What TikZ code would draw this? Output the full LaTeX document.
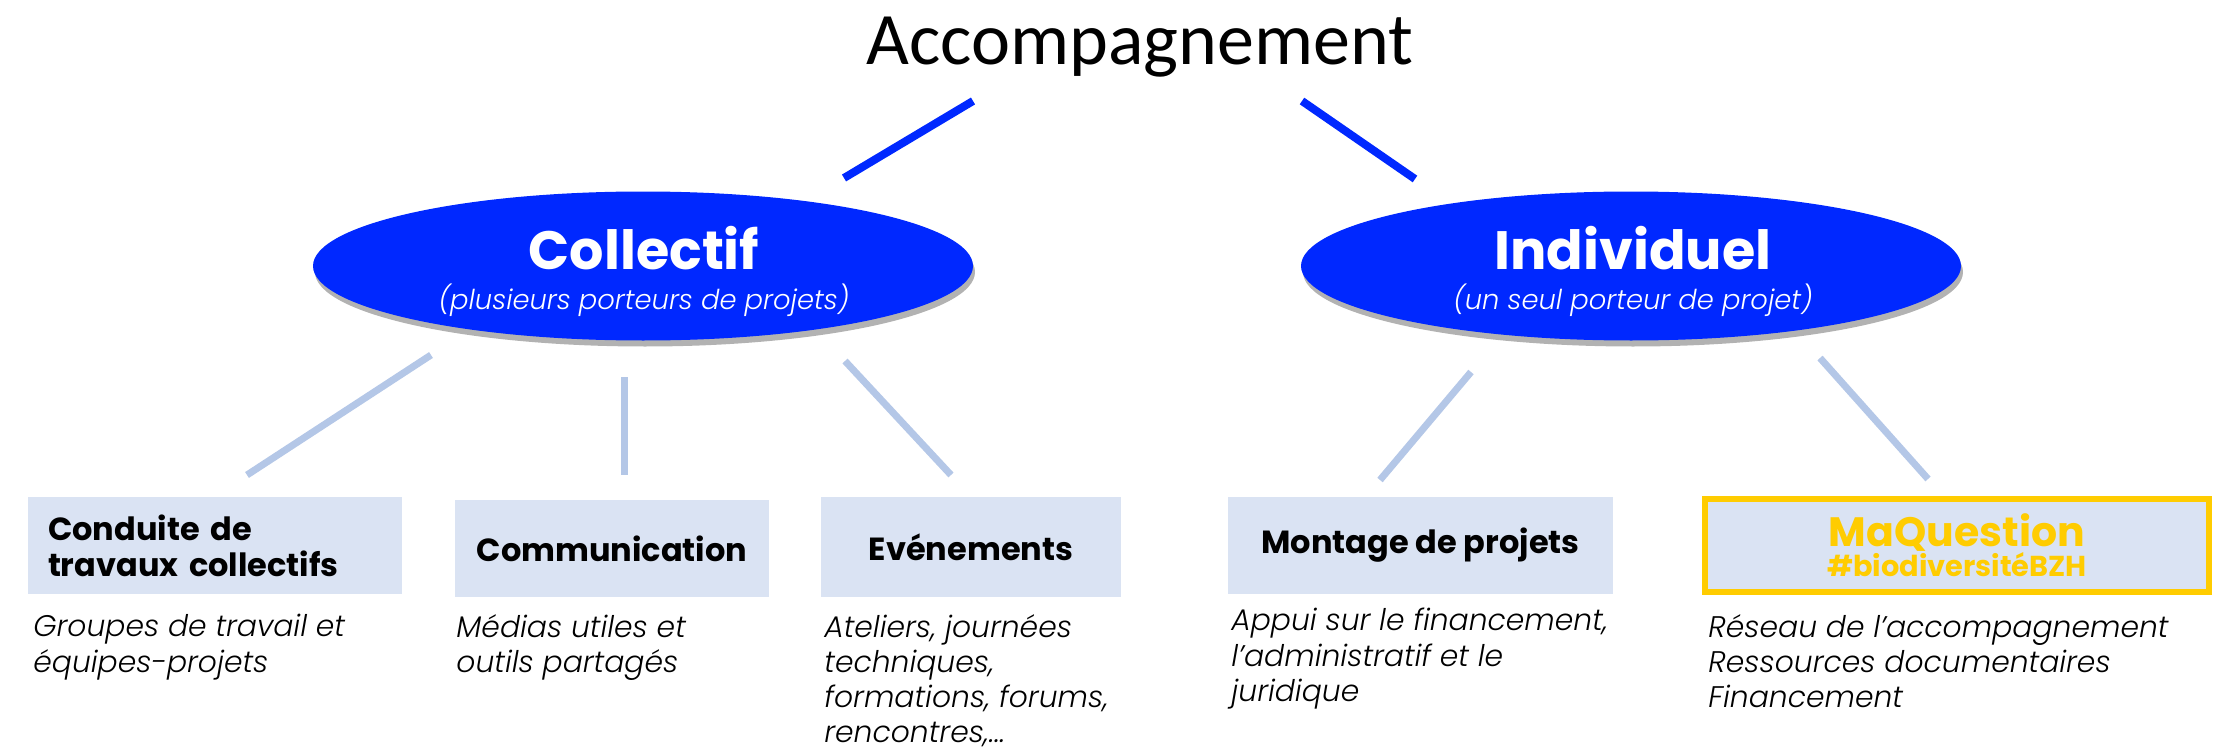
\documentclass[tikz,border=0pt]{standalone}
\usepackage{fontspec}
\setmainfont{Poppins}
\newfontfamily\titlefont{Carlito}
\newfontfamily\lightfont{Poppins Light}[ItalicFont={Poppins Light Italic}]
\usetikzlibrary{shapes.geometric,shadows}
\definecolor{ellblue}{RGB}{0,40,255}
\definecolor{boxfill}{RGB}{218,227,243}
\definecolor{linkblue}{RGB}{180,199,231}
\definecolor{mqyellow}{RGB}{255,204,0}
\tikzset{
  ell/.style={ellipse, fill=ellblue, inner sep=0pt, minimum width=330pt, minimum height=74.5pt,
    drop shadow={shadow xshift=1pt, shadow yshift=-3pt, opacity=0.3, fill=black}},
  elltitle/.style={text=white, inner sep=0pt, font=\bfseries\fontsize{27}{30}\selectfont},
  ellsub/.style={text=white, inner sep=0pt, font=\lightfont\itshape\fontsize{13.7}{16}\selectfont},
  topline/.style={draw=ellblue, line width=4pt},
  subline/.style={draw=linkblue, line width=3.5pt},
  catbox/.style={fill=boxfill, inner sep=0pt, minimum height=48.5pt, align=center,
    font=\bfseries\fontsize{16}{18}\selectfont},
  desc/.style={anchor=north west, inner sep=0pt, align=left,
    font=\lightfont\itshape\fontsize{14.9}{17.6}\selectfont}
}
\begin{document}
\begin{tikzpicture}[x=0.5pt,y=-0.5pt]
\useasboundingbox (0,0) rectangle (2228,749);
% title
\node[inner sep=0pt, anchor=base, font=\titlefont\fontsize{37}{40}\selectfont] (title) at (1140,65) {Accompagnement};
% ellipses
\node[ell] (col) at (643,266) {};
\node[ell] (ind) at (1631,266) {};
\node[elltitle] (coltitle) at (644,248) {Collectif};
\node[ellsub] (colsub) at (644,300) {(plusieurs porteurs de projets)};
\node[elltitle] (indtitle) at (1633,248) {Individuel};
\node[ellsub] (indsub) at (1633,300) {(un seul porteur de projet)};
% blue connectors
\coordinate (tl1) at (973,101); \coordinate (tl2) at (844,178);
\coordinate (tr1) at (1302,101); \coordinate (tr2) at (1415,179);
\draw[topline] (tl1) -- (tl2);
\draw[topline] (tr1) -- (tr2);
% boxes
\node[catbox, minimum width=187pt, text width=167pt, inner xsep=10pt, align=left] (box1) at (215,545.5) {Conduite de\\travaux collectifs};
\node[catbox, minimum width=157pt] (box2) at (612,548.5) {Communication};
\node[catbox, minimum width=150pt, minimum height=50pt] (box3) at (971,547) {Evénements};
\node[catbox, minimum width=192.5pt] (box4) at (1420.5,545.5) {Montage de projets};
\node[catbox, draw=mqyellow, line width=3pt, minimum width=252pt, minimum height=46.5pt, text=mqyellow] (box5) at (1957,545.5)
  {{\fontsize{20.5}{22}\selectfont MaQuestion}\\[-3pt]{\fontsize{14.4}{15}\selectfont \#biodiversitéBZH}};
% light connectors
\coordinate (s1a) at (431,355); \coordinate (s1b) at (247,475);
\coordinate (s2a) at (624,377); \coordinate (s2b) at (624,475);
\coordinate (s3a) at (845,361); \coordinate (s3b) at (951,475);
\coordinate (s4a) at (1471,372); \coordinate (s4b) at (1380,480);
\coordinate (s5a) at (1820,358); \coordinate (s5b) at (1928,479);
\draw[subline] (s1a) -- (s1b);
\draw[subline] (s2a) -- (s2b);
\draw[subline] (s3a) -- (s3b);
\draw[subline] (s4a) -- (s4b);
\draw[subline] (s5a) -- (s5b);
% descriptions
\node[desc] (d1) at (33,614) {Groupes de travail et\\équipes-projets};
\node[desc] (d2) at (456,614) {Médias utiles et\\outils partagés};
\node[desc] (d3) at (824,614) {Ateliers, journées\\techniques,\\formations, forums,\\rencontres,...};
\node[desc] (d4) at (1231,608) {Appui sur le financement,\\l’administratif et le\\juridique};
\node[desc] (d5) at (1708,614) {Réseau de l’accompagnement\\Ressources documentaires\\Financement};
\end{tikzpicture}
\end{document}
